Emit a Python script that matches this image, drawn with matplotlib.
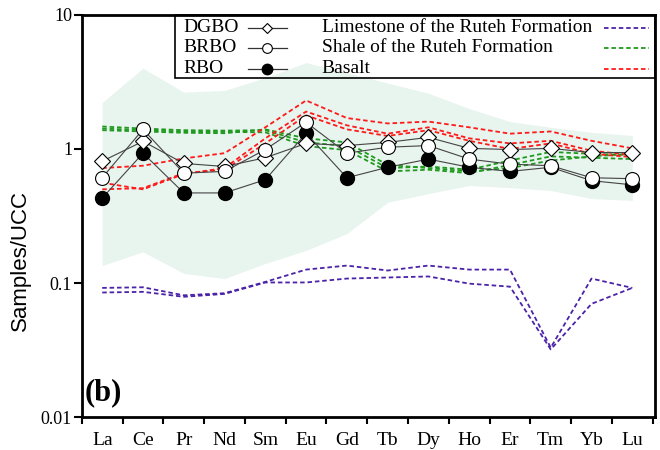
import numpy as np
import matplotlib
matplotlib.use("Agg")
import matplotlib.pyplot as plt
from matplotlib.lines import Line2D
from matplotlib.patches import Rectangle

plt.rcParams['font.family'] = ['Liberation Serif', 'DejaVu Serif']

# REE elements
elements = ["La", "Ce", "Pr", "Nd", "Sm", "Eu", "Gd", "Tb", "Dy", "Ho", "Er", "Tm", "Yb", "Lu"]

# samples normalised to UCC
dgbo = [0.81, 1.14, 0.78, 0.74, 0.86, 1.10, 1.06, 1.12, 1.22, 1.01, 0.99, 1.01, 0.94, 0.94]
brbo = [0.61, 1.40, 0.66, 0.68, 0.99, 1.58, 0.93, 1.03, 1.06, 0.84, 0.77, 0.75, 0.61, 0.60]
rbo = [0.43, 0.93, 0.47, 0.47, 0.59, 1.31, 0.61, 0.73, 0.84, 0.73, 0.68, 0.73, 0.58, 0.54]

# Ruteh Formation limestone
lime_1 = [0.092, 0.093, 0.081, 0.084, 0.102, 0.126, 0.135, 0.124, 0.135, 0.126, 0.126, 0.033, 0.108, 0.092]
lime_2 = [0.085, 0.086, 0.079, 0.083, 0.101, 0.101, 0.108, 0.110, 0.112, 0.099, 0.094, 0.032, 0.070, 0.092]

# Ruteh Formation shale
shale_1 = [1.47, 1.42, 1.38, 1.37, 1.38, 1.12, 1.05, 0.72, 0.74, 0.70, 0.82, 0.95, 0.92, 0.90]
shale_2 = [1.42, 1.38, 1.35, 1.34, 1.33, 1.05, 0.98, 0.68, 0.70, 0.66, 0.76, 0.88, 0.86, 0.84]
shale_3 = [1.38, 1.35, 1.32, 1.31, 1.40, 1.20, 1.12, 0.76, 0.72, 0.68, 0.72, 0.82, 0.88, 0.92]

# basalt
basalt_1 = [0.72, 0.75, 0.85, 0.93, 1.45, 2.30, 1.70, 1.55, 1.60, 1.45, 1.30, 1.35, 1.15, 1.01]
basalt_2 = [0.56, 0.50, 0.65, 0.72, 1.20, 1.90, 1.50, 1.30, 1.45, 1.20, 1.10, 1.15, 0.97, 0.90]
basalt_3 = [0.50, 0.51, 0.66, 0.70, 1.10, 1.78, 1.40, 1.25, 1.38, 1.15, 1.00, 1.10, 0.92, 0.87]

# shaded field
field_top = [2.22, 4.0, 2.65, 2.73, 3.4, 4.4, 3.7, 3.1, 2.6, 2.0, 1.6, 1.45, 1.33, 1.26]
field_bottom = [0.135, 0.171, 0.118, 0.108, 0.14, 0.175, 0.234, 0.40, 0.465, 0.534, 0.515, 0.49, 0.427, 0.413]

x = np.arange(len(elements))

fig = plt.figure(figsize=(6.6, 4.5), dpi=100)
ax = fig.add_axes([0.124, 0.073, 0.868, 0.894])

ax.fill_between(x, field_bottom, field_top, color="#e8f4ee", lw=0, zorder=1)

dash = (0, (2.5, 1.6))
for s in [lime_1, lime_2]:
    ax.plot(x, s, color="#4b22a8", lw=1.3, ls=dash, zorder=2)
for s in [shale_1, shale_2, shale_3]:
    ax.plot(x, s, color="#1f9a1f", lw=1.3, ls=dash, zorder=2)
for s in [basalt_1, basalt_2, basalt_3]:
    ax.plot(x, s, color="#ff1a1a", lw=1.3, ls=dash, zorder=3)

ax.plot(x, dgbo, color="#444444", lw=0.8, marker="D", ms=8.5, mfc="white", mec="black", mew=0.8, zorder=5)
ax.plot(x, brbo, color="#444444", lw=0.8, marker="o", ms=10, mfc="white", mec="black", mew=0.8, zorder=6)
ax.plot(x, rbo, color="#444444", lw=0.8, marker="o", ms=10, mfc="black", mec="black", zorder=4)

ax.set_yscale("log")
ax.set_ylim(0.01, 10)
ax.set_xlim(-0.5, 13.55)
ax.set_yticks([0.01, 0.1, 1, 10])
ax.set_yticklabels(["0.01", "0.1", "1", "10"])
ax.yaxis.set_minor_locator(matplotlib.ticker.NullLocator())
ax.set_xticks(x)
ax.set_xticklabels(elements)
ax.set_xticks(np.arange(-0.5, 13.6, 1.0), minor=True)
ax.tick_params(axis="x", which="major", length=0, labelsize=14, pad=11)
ax.tick_params(axis="x", which="minor", length=5, width=1.5, direction="out")
ax.tick_params(axis="y", which="major", length=6, width=1.5, direction="out", labelsize=13, pad=1)
for sp in ax.spines.values():
    sp.set_linewidth(2)

ax.set_ylabel("Samples/UCC", fontsize=16, family=["Liberation Sans", "DejaVu Sans"])
ax.yaxis.set_label_coords(-0.088, 0.39)

ax.text(0.005, 0.025, "(b)", transform=ax.transAxes, fontsize=22, fontweight="bold", ha="left", va="bottom")

# legend drawn by hand, box without fill
ax.add_patch(Rectangle((0.162, 0.843), 0.838, 0.157, transform=ax.transAxes,
                       fill=False, ec="black", lw=1.2, zorder=7, clip_on=False))
rows = [0.968, 0.918, 0.866]
left_labels = ["DGBO", "BRBO", "RBO"]
left_styles = [dict(marker="D", ms=5.5, mfc="white", mec="black", mew=0.8),
               dict(marker="o", ms=7, mfc="white", mec="black", mew=0.8),
               dict(marker="o", ms=7.5, mfc="black", mec="black")]
right_labels = ["Limestone of the Ruteh Formation", "Shale of the Ruteh Formation", "Basalt"]
right_colors = ["#4b22a8", "#1f9a1f", "#ff1a1a"]
for yy, lab, st, rlab, rc in zip(rows, left_labels, left_styles, right_labels, right_colors):
    ax.text(0.178, yy, lab, transform=ax.transAxes, fontsize=14, va="center", ha="left", zorder=8)
    ax.add_line(Line2D([0.290, 0.358], [yy, yy], transform=ax.transAxes, color="#333333", lw=0.9, zorder=8))
    ax.add_line(Line2D([0.324], [yy], transform=ax.transAxes, ls="none", zorder=9, **st))
    ax.text(0.419, yy, rlab, transform=ax.transAxes, fontsize=14, va="center", ha="left", zorder=8)
    ax.add_line(Line2D([0.911, 0.99], [yy, yy], transform=ax.transAxes, color=rc, lw=1.3, ls=dash, zorder=8))

fig.savefig("out.png", dpi=100)
